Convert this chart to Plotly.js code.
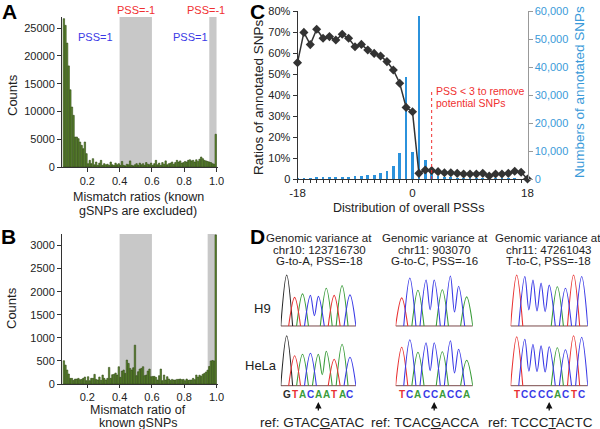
<!DOCTYPE html>
<html>
<head>
<meta charset="utf-8">
<script src="https://cdn.plot.ly/plotly-3.0.1.min.js"></script>
<style>html,body{margin:0;padding:0;background:#fff;}#chart{width:600px;height:429px;}</style>
</head>
<body>
<div id="chart"></div>
<script>
// ---------------- DATA ----------------
// Panel A/B: histogram bins of width 0.01 starting at 0.05
const binStart = 0.05;
const binWidth = 0.01;
const countsA = [
  26700, 25500, 22300, 18200, 13900, 10800, 9300, 5400, 5400, 5100,
  4500, 3900, 3300, 4500, 2400, 600, 1200, 600, 1500, 400,
  900, 300, 700, 1200, 300, 600, 400, 500, 300, 900,
  400, 300, 700, 400, 600, 300, 1000, 300, 200, 500,
  400, 1100, 300, 200, 400, 600, 300, 700, 400, 600,
  300, 800, 500, 400, 700, 300, 600, 1200, 400, 700,
  300, 800, 500, 1100, 400, 600, 700, 900, 500, 800,
  1200, 900, 1100, 700, 800, 1000, 900, 1200, 1300, 1100,
  1200, 900, 1300, 1000, 1400, 1800, 1500, 1200, 1100, 1000,
  900, 800, 600, 500, 5900
];
const countsB = [
  504, 410, 302, 216, 122, 122, 79, 108, 108, 122,
  94, 100, 122, 151, 72, 158, 72, 122, 122, 209,
  100, 86, 151, 79, 194, 122, 86, 122, 360, 122,
  201, 209, 237, 194, 374, 144, 280, 302, 230, 518,
  446, 338, 302, 352, 842, 180, 266, 324, 338, 374,
  180, 194, 280, 324, 158, 165, 165, 144, 86, 180,
  324, 72, 194, 86, 158, 108, 79, 100, 86, 86,
  100, 100, 108, 94, 100, 72, 108, 79, 86, 86,
  122, 94, 194, 150, 190, 170, 210, 230, 260, 300,
  380, 500, 510, 500, 3230
];
const grayBandsA = [[0.4, 0.6], [0.955, 1.0]];
const grayBandsB = [[0.4, 0.6], [0.945, 1.0]];
const ticksAB = [0.2, 0.4, 0.6, 0.8, 1.0];
const ticksA_y = [0, 5000, 10000, 15000, 20000, 25000];
const ticksB_y = [0, 500, 1000, 1500, 2000, 2500, 3000];

// Panel C
const pss = [-18,-17,-16,-15,-14,-13,-12,-11,-10,-9,-8,-7,-6,-5,-4,-3,-2,-1,0,1,2,3,4,5,6,7,8,9,10,11,12,13,14,15,16,17,18];
const ratioAnnotated = [0.554,0.698,0.640,0.713,0.670,0.678,0.662,0.689,0.670,0.630,0.641,0.614,0.598,0.586,0.559,0.519,0.456,0.341,0.320,
  0.027,0.043,0.040,0.035,0.030,0.030,0.027,0.024,0.024,0.024,0.027,0.014,0.024,0.024,0.027,0.037,0.032,0.0];
const numAnnotated = [480,480,480,600,600,700,700,830,830,950,1070,1300,1550,2000,3000,4640,9200,36500,9760,
  58300,6800,2600,1070,700,600,480,480,360,360,360,240,240,240,240,240,120,120];
const pctTicks = [0,0.1,0.2,0.3,0.4,0.5,0.6,0.7,0.8];
const pctTickText = ['0','10%','20%','30%','40%','50%','60%','70%','80%'];
const numTicks = [0,10000,20000,30000,40000,50000,60000];
const xTickLabelsC = {'-18':'-18','0':'0','18':'18'};
const pssCutoff = 3;

// Panel D: chromatograms (peak heights relative to tallest)
const variantTitles = [
  ['Genomic variance at','chr10: 123716730','G-to-A, PSS=-18'],
  ['Genomic variance at','chr11: 903070','G-to-C, PSS=-16'],
  ['Genomic variance at','chr11: 47261043','T-to-C, PSS=-18']
];
const seqH9   = ['GTACCATAC','TCACCACCA','TCCCCACTC'];
const seqHeLa = ['GTACAATAC','TCACCACCA','TCCCCACTC'];
const heightsH9 = [
  [1.0,0.56,0.63,0.60,0.58,0.74,0.60,0.79,0.61],
  [0.55,0.94,0.70,0.90,0.90,0.71,0.98,0.78,0.57],
  [1.0,0.97,0.90,0.84,0.80,0.77,0.74,1.0,0.97]
];
const heightsHeLa = [
  [1.0,0.60,0.63,0.65,0.63,0.69,0.53,0.83,0.57],
  [0.77,0.92,0.67,0.86,0.86,0.68,0.90,0.73,0.51],
  [0.98,0.93,0.83,0.80,0.78,0.76,0.72,1.0,0.97]
];
const calledBases = ['GTACAATAC','TCACCACCA','TCCCCACTC'];
const refPrefix = ['GTAC','TCAC','TCCC'];
const refVariant = ['G','G','T'];
const refSuffix = ['ATAC','ACCA','ACTC'];
const rowLabels = ['H9','HeLa'];

// ---------------- HELPERS ----------------
const FONT = 'Liberation Sans, Arial, Helvetica, sans-serif';
const W = 600, H = 429;
const px = x => x / W;
const py = y => 1 - y / H;
const baseColors = {G:'#2b2b2b', A:'#3a9c3a', T:'#e83232', C:'#3a3ae6'};

const binCenters = countsA.map((_, i) => +(binStart + binWidth * i + binWidth / 2).toFixed(4));

const traces = [];
traces.push({type:'bar', x:binCenters, y:countsA, xaxis:'x', yaxis:'y', width:0.0088,
  marker:{color:'#5f8e2e', line:{color:'#2d4412', width:0.6}}, showlegend:false, hoverinfo:'skip'});
traces.push({type:'bar', x:binCenters, y:countsB, xaxis:'x2', yaxis:'y2', width:0.0088,
  marker:{color:'#5f8e2e', line:{color:'#2d4412', width:0.6}}, showlegend:false, hoverinfo:'skip'});
// Panel C bars on y3 (right), line on y4 (left, overlaid)
traces.push({type:'bar', x:pss, y:numAnnotated, xaxis:'x3', yaxis:'y3', width:0.42,
  marker:{color:'#2b92dc'}, showlegend:false, hoverinfo:'skip'});
traces.push({type:'scatter', mode:'lines+markers', x:pss, y:ratioAnnotated, xaxis:'x3', yaxis:'y4',
  line:{color:'#333', width:1.5}, marker:{symbol:'diamond', size:7, color:'#333'},
  cliponaxis:false, showlegend:false, hoverinfo:'skip'});

function chromTraces(seq, heights, xa, ya) {
  const out = [];
  out.push({type:'scatter', mode:'lines', x:[-0.75, seq.length - 0.25], y:[0, 0], xaxis:xa, yaxis:ya,
    line:{color:'#7a4a4a', width:1}, showlegend:false, hoverinfo:'skip'});
  for (const base of ['G','A','T','C']) {
    const xs = [], ys = [];
    let i = 0;
    while (i < seq.length) {
      if (seq[i] !== base) { i++; continue; }
      xs.push(i - 0.75); ys.push(0);
      xs.push(i); ys.push(heights[i]);
      while (i + 1 < seq.length && seq[i + 1] === base) {
        xs.push(i + 0.5); ys.push(0.35 * Math.min(heights[i], heights[i + 1]));
        i++;
        xs.push(i); ys.push(heights[i]);
      }
      xs.push(i + 0.75); ys.push(0);
      xs.push(null); ys.push(null);
      i++;
    }
    if (xs.length) out.push({type:'scatter', mode:'lines', x:xs, y:ys, xaxis:xa, yaxis:ya,
      line:{color:baseColors[base], width:1.1, shape:'spline', smoothing:1},
      showlegend:false, hoverinfo:'skip'});
  }
  return out;
}

// chromatogram column geometry (first & last peak pixel)
const colPeaks = [[286.7, 350.0], [401.7, 466.7], [516.7, 581.7]];
const rowDomains = [[327.5, 272.4], [387.2, 333.2]];

const layout = {
  width: W, height: H,
  margin: {l:0, r:0, t:0, b:0},
  paper_bgcolor: '#fff', plot_bgcolor: 'rgba(0,0,0,0)',
  font: {family: FONT, size: 11, color: '#222'},
  showlegend: false,
  bargap: 0,
  shapes: [], annotations: []
};

const axisBase = {showgrid:false, zeroline:false, showline:true, linecolor:'#333', linewidth:1,
  ticks:'outside', ticklen:4, tickcolor:'#333', tickfont:{family:FONT, size:11, color:'#222'}};

layout.xaxis = Object.assign({}, axisBase, {domain:[px(62), px(218)], range:[0.0434, 1.009], anchor:'y',
  tickvals:ticksAB, tickformat:'.1f'});
layout.yaxis = Object.assign({}, axisBase, {domain:[py(167), py(17)], range:[0, 27000], anchor:'x',
  tickvals:ticksA_y, tickformat:'d'});
layout.xaxis2 = Object.assign({}, axisBase, {domain:[px(62), px(218)], range:[0.0434, 1.009], anchor:'y2',
  tickvals:ticksAB, tickformat:'.1f', ticklen:3});
layout.yaxis2 = Object.assign({}, axisBase, {domain:[py(384), py(234)], range:[0, 3250], anchor:'x2',
  tickvals:ticksB_y, tickformat:'d'});

layout.xaxis3 = Object.assign({}, axisBase, {domain:[px(297.5), px(527.5)], range:[-18, 18], anchor:'y4',
  tickvals:pss, ticktext:pss.map(v => xTickLabelsC[String(v)] || ''), ticklen:3,
  tickfont:{family:FONT, size:11.5, color:'#222'}});
layout.yaxis3 = Object.assign({}, axisBase, {domain:[py(179), py(11)], range:[0, 60000], anchor:'x3',
  side:'right', tickvals:numTicks, tickformat:',', linecolor:'#999', tickcolor:'#999',
  tickfont:{family:FONT, size:11, color:'#3a9ad9'}});
layout.yaxis4 = Object.assign({}, axisBase, {range:[0, 0.8], anchor:'x3', overlaying:'y3', side:'left',
  tickvals:pctTicks, ticktext:pctTickText});

// Panel D axes
let axIdx = 5;
for (let c = 0; c < 3; c++) {
  const [p0, p8] = colPeaks[c];
  const s = (p8 - p0) / 8;
  for (let r = 0; r < 2; r++) {
    const xa = 'x' + axIdx, ya = 'y' + axIdx;
    layout['xaxis' + axIdx] = {domain:[px(p0 - 0.75 * s), px(p8 + 0.75 * s)], range:[-0.75, 8.75],
      visible:false, anchor:ya, fixedrange:true};
    layout['yaxis' + axIdx] = {domain:[py(rowDomains[r][0]), py(rowDomains[r][1])], range:[-0.03, 1.05],
      visible:false, anchor:xa, fixedrange:true};
    const seq = r === 0 ? seqH9[c] : seqHeLa[c];
    const hts = r === 0 ? heightsH9[c] : heightsHeLa[c];
    chromTraces(seq, hts, xa, ya).forEach(t => traces.push(t));
    axIdx++;
  }
}

// ---------------- SHAPES ----------------
grayBandsA.forEach(b => layout.shapes.push({type:'rect', xref:'x', yref:'y', x0:b[0], x1:b[1], y0:0, y1:27000,
  fillcolor:'#c8c8c8', line:{width:0}, layer:'below'}));
grayBandsB.forEach(b => layout.shapes.push({type:'rect', xref:'x2', yref:'y2', x0:b[0], x1:b[1], y0:0, y1:3250,
  fillcolor:'#c8c8c8', line:{width:0}, layer:'below'}));
layout.shapes.push({type:'line', xref:'x3', yref:'y3', x0:pssCutoff, x1:pssCutoff, y0:0, y1:31800,
  line:{color:'#f03030', width:1, dash:'dot'}});

// ---------------- ANNOTATIONS ----------------
const ann = layout.annotations;
function txt(x, y, text, opts) {
  ann.push(Object.assign({xref:'paper', yref:'paper', x:px(x), y:py(y), text:text, showarrow:false,
    xanchor:'center', yanchor:'middle', font:{family:FONT, size:13, color:'#222'}}, opts || {}));
}
// panel letters
txt(9, 11, '<b>A</b>', {font:{family:FONT, size:21, color:'#000'}});
txt(8, 236, '<b>B</b>', {font:{family:FONT, size:21, color:'#000'}});
txt(257, 11, '<b>C</b>', {font:{family:FONT, size:21, color:'#000'}});
txt(257, 237, '<b>D</b>', {font:{family:FONT, size:21, color:'#000'}});
// Panel A labels
txt(136, 10, 'PSS=-1', {font:{family:FONT, size:11, color:'#f03030'}});
txt(206, 10, 'PSS=-1', {font:{family:FONT, size:11, color:'#f03030'}});
txt(95, 37, 'PSS=1', {font:{family:FONT, size:11, color:'#3a3ae6'}});
txt(190, 37, 'PSS=1', {font:{family:FONT, size:11, color:'#3a3ae6'}});
txt(13, 95, 'Counts', {textangle:-90, font:{family:FONT, size:13, color:'#222'}});
txt(138, 197, 'Mismatch ratios (known', {font:{family:FONT, size:12.5, color:'#222'}});
txt(138, 211, 'gSNPs are excluded)', {font:{family:FONT, size:12.5, color:'#222'}});
// Panel B labels
txt(11, 308, 'Counts', {textangle:-90, font:{family:FONT, size:13, color:'#222'}});
txt(138, 410, 'Mismatch ratio of', {font:{family:FONT, size:12.5, color:'#222'}});
txt(138, 423, 'known gSNPs', {font:{family:FONT, size:12.5, color:'#222'}});
// Panel C labels
txt(258, 97, 'Ratios of annotated SNPs', {textangle:-90, font:{family:FONT, size:13.5, color:'#222'}});
txt(579, 92, 'Numbers of annotated SNPs', {textangle:-90, font:{family:FONT, size:13.5, color:'#3a9ad9'}});
txt(408, 208, 'Distribution of overall PSSs', {font:{family:FONT, size:12.5, color:'#222'}});
txt(434, 91, 'PSS &lt; 3 to remove', {xanchor:'left', font:{family:FONT, size:10.5, color:'#f03030'}});
txt(434, 103, 'potential SNPs', {xanchor:'left', font:{family:FONT, size:10.5, color:'#f03030'}});
// Panel D labels
const colCenters = [319, 434.5, 548];
const refCenters = [313, 425, 540];
for (let c = 0; c < 3; c++) {
  variantTitles[c].forEach((line, k) => txt(colCenters[c], 238 + k * 11.7, line, {font:{family:FONT, size:11.5, color:'#222'}}));
  const xa = 'x' + (5 + 2 * c);
  const bases = calledBases[c];
  for (let i = 0; i < bases.length; i++) {
    ann.push({xref:xa, yref:'paper', x:i, y:py(394), text:'<b>' + bases[i] + '</b>', showarrow:false,
      xanchor:'center', yanchor:'middle', font:{family:FONT, size:10, color:baseColors[bases[i]]}});
  }
  ann.push({xref:xa, yref:'paper', x:4, y:py(402), text:'', showarrow:true, ax:0, ay:10,
    arrowhead:2, arrowsize:1, arrowwidth:1.3, arrowcolor:'#111'});
  txt(refCenters[c], 422, 'ref: ' + refPrefix[c] + '<u>' + refVariant[c] + '</u>' + refSuffix[c],
    {font:{family:FONT, size:13.5, color:'#222'}});
}
txt(262, 308, rowLabels[0], {font:{family:FONT, size:13, color:'#222'}});
txt(261, 365, rowLabels[1], {font:{family:FONT, size:13, color:'#222'}});

Plotly.newPlot('chart', traces, layout, {staticPlot:true, displayModeBar:false});
</script>
</body>
</html>
